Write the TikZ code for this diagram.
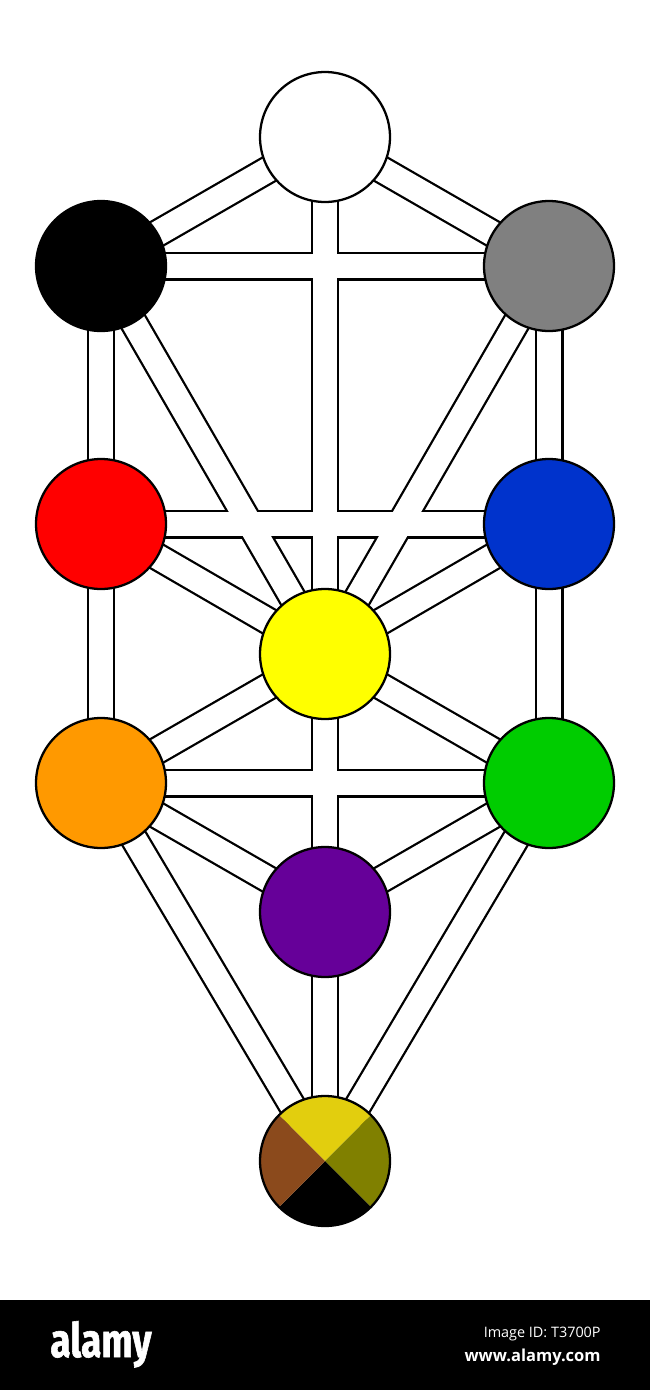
\documentclass[tikz,border=0pt]{standalone}
\usepackage{fontspec}
\usepackage{tikz}
\usetikzlibrary{backgrounds}
\newfontfamily\logofont{Fira Sans}[FakeStretch=0.78,FakeBold=1.2]
\newfontfamily\bannerfont{Open Sans}
\definecolor{TreeGray}{HTML}{808080}
\definecolor{TreeRed}{HTML}{FF0000}
\definecolor{TreeBlue}{HTML}{0033CC}
\definecolor{TreeYellow}{HTML}{FFFF00}
\definecolor{TreeOrange}{HTML}{FF9900}
\definecolor{TreeGreen}{HTML}{00CC00}
\definecolor{TreePurple}{HTML}{660099}
\definecolor{TreeCitrine}{HTML}{E2CE0E}
\definecolor{TreeOlive}{HTML}{808000}
\definecolor{TreeRusset}{HTML}{8B4A1C}
\begin{document}
\begin{tikzpicture}[x=0.02cm,y=-0.02cm,
  sefira/.style={circle,draw=black,line width=1.3pt,minimum size=2.6cm,inner sep=0pt},
  pathout/.style={draw=black,line width=16.5pt},
  pathin/.style={draw=white,line width=13.9pt},
  banner/.style={text=white,inner sep=0pt},
]
\useasboundingbox (0,0) rectangle (650,1390);
% the ten spheres
\node[sefira,fill=white] (kether) at (325,137) {};
\node[sefira,fill=TreeGray] (chokmah) at (549,266) {};
\node[sefira,fill=black] (binah) at (101,266) {};
\node[sefira,fill=TreeBlue] (chesed) at (549,524) {};
\node[sefira,fill=TreeRed] (geburah) at (101,524) {};
\node[sefira,fill=TreeYellow] (tiphareth) at (325,654) {};
\node[sefira,fill=TreeGreen] (netzach) at (549,783) {};
\node[sefira,fill=TreeOrange] (hod) at (101,783) {};
\node[sefira,fill=TreePurple] (yesod) at (325,912) {};
\node[sefira,path picture={
    \fill[TreeCitrine] (path picture bounding box.center) -- (path picture bounding box.north west) -- (path picture bounding box.north east) -- cycle;
    \fill[TreeOlive] (path picture bounding box.center) -- (path picture bounding box.north east) -- (path picture bounding box.south east) -- cycle;
    \fill[black] (path picture bounding box.center) -- (path picture bounding box.south east) -- (path picture bounding box.south west) -- cycle;
    \fill[TreeRusset] (path picture bounding box.center) -- (path picture bounding box.south west) -- (path picture bounding box.north west) -- cycle;
  }] (malkuth) at (325,1161) {};
% the 22 paths
\begin{scope}[on background layer]
\fill[white] (0,0) rectangle (650,1300);
\foreach \s in {pathout,pathin}
  \foreach \a/\b in {kether/chokmah,kether/binah,kether/tiphareth,chokmah/binah,
      chokmah/tiphareth,chokmah/chesed,binah/tiphareth,binah/geburah,
      chesed/geburah,chesed/tiphareth,chesed/netzach,geburah/tiphareth,
      geburah/hod,tiphareth/netzach,tiphareth/hod,tiphareth/yesod,
      netzach/hod,netzach/yesod,netzach/malkuth,hod/yesod,hod/malkuth,
      yesod/malkuth}
    \draw[\s] (\a.center) -- (\b.center);
\end{scope}
% banner
\fill[black] (0,1300) rectangle (650,1390);
\node[banner,anchor=base west,font=\logofont\bfseries\fontsize{27}{27}\selectfont] (logo) at (50,1357) {alamy};
\node[banner,anchor=base east,font=\bannerfont\fontsize{8.2}{8.2}\selectfont] (imageid) at (601,1337) {Image ID: T3700P};
\node[banner,anchor=base east,font=\bannerfont\bfseries\fontsize{9.4}{9.4}\selectfont] (site) at (601,1361) {www.alamy.com};
\end{tikzpicture}
\end{document}
